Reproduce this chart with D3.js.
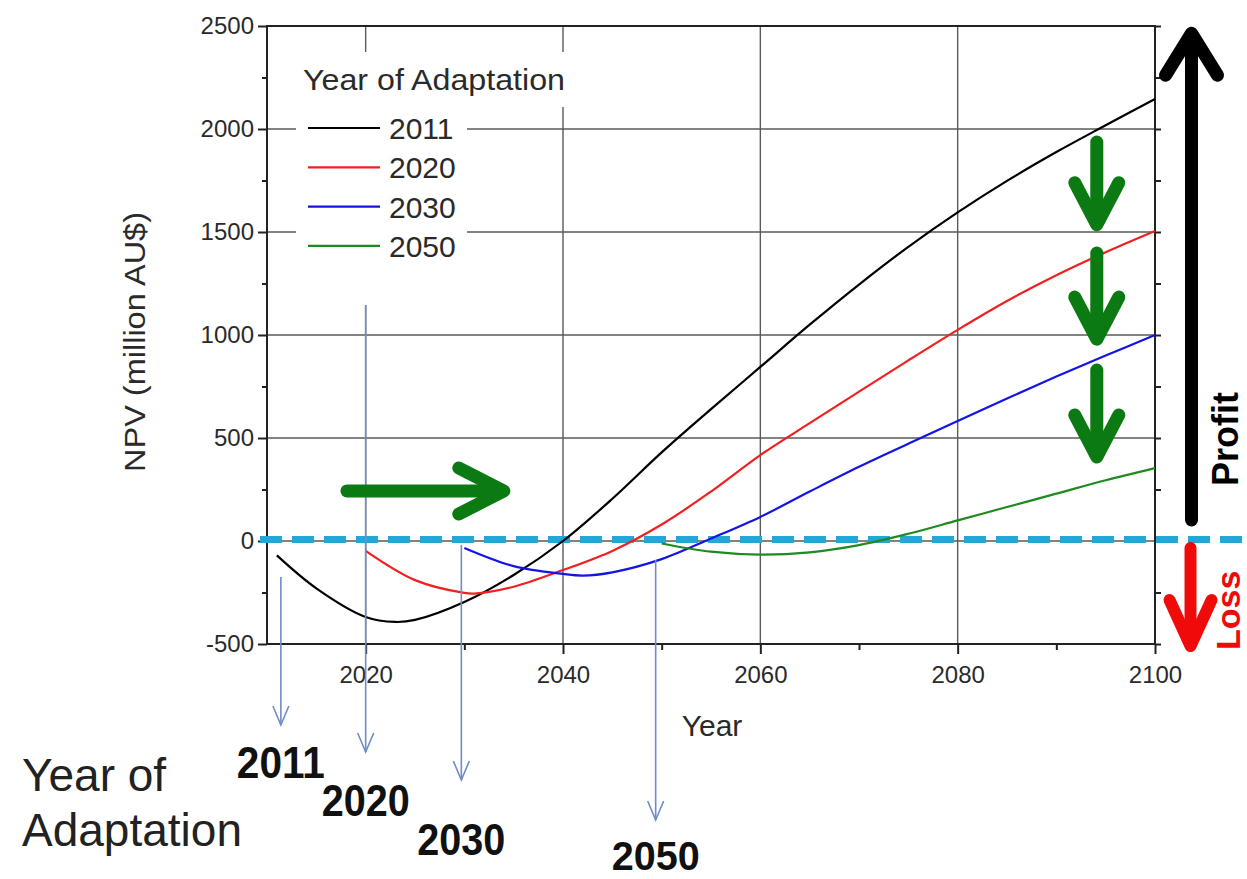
<!DOCTYPE html>
<html><head><meta charset="utf-8">
<script src="https://cdn.jsdelivr.net/npm/d3@7"></script>
<style>
body{margin:0;background:#fff}
svg{display:block}
text{font-family:"Liberation Sans",Arial,Helvetica,sans-serif}
</style>
</head><body>
<svg id="chart" width="1247" height="879"></svg>
<script>
// ---------- data ----------
const seriesNames = ["2011", "2020", "2030", "2050"];
const years2011 = [2011,2015,2020,2023,2025,2030,2035,2040,2045,2050,2055,2060,2065,2070,2075,2080,2085,2090,2095,2100];
const npv2011   = [-70,-230,-369,-393,-383,-296,-165,0,205,430,640,845,1050,1245,1428,1595,1748,1888,2018,2146];
const years2020 = [2020,2025,2030,2031,2035,2040,2045,2050,2055,2060,2065,2070,2075,2080,2085,2090,2095,2100];
const npv2020   = [-48,-190,-252,-255,-222,-141,-48,80,240,417,572,725,877,1025,1165,1290,1402,1505];
const years2030 = [2030,2035,2040,2042,2045,2050,2055,2060,2065,2070,2075,2080,2085,2090,2095,2100];
const npv2030   = [-34,-122,-160,-168,-152,-88,12,117,240,360,472,583,692,798,900,1000];
const years2050 = [2050,2055,2060,2065,2070,2075,2080,2085,2090,2095,2100];
const npv2050   = [-12,-52,-66,-55,-20,35,100,165,230,295,354];
const xTickYears = [2020, 2040, 2060, 2080, 2100];
const xMinorYears = [2030, 2050, 2070, 2090];
const yTickValues = [-500, 0, 500, 1000, 1500, 2000, 2500];
const yMinorValues = [-250, 250, 750, 1250, 1750, 2250];
const adaptationYears = [2011, 2020, 2030, 2050];
const adaptationArrowStart = [-175, 1146, -19, -92]; // NPV value where each arrow begins

// ---------- layout ----------
const W = 1247, H = 879;
const M = {left: 267, right: 1155, top: 26, bottom: 644};
const colors = {"2011": "#000000", "2020": "#f02020", "2030": "#1414e6", "2050": "#1f8a1f"};
const svg = d3.select("#chart");
svg.append("rect").attr("width", W).attr("height", H).attr("fill", "#fff");

const x = d3.scaleLinear().domain([2010, 2100]).range([M.left, M.right]);
const y = d3.scaleLinear().domain([-500, 2500]).range([M.bottom, M.top]);

// gridlines
const grid = svg.append("g").attr("stroke", "#5a5a5a").attr("stroke-width", 1.4);
grid.selectAll("line.v").data(xTickYears.filter(d => d < 2100)).join("line")
  .attr("x1", d => x(d)).attr("x2", d => x(d)).attr("y1", M.top).attr("y2", M.bottom);
grid.selectAll("line.h").data(yTickValues.filter(d => d > -500 && d < 2500)).join("line")
  .attr("x1", M.left).attr("x2", M.right).attr("y1", d => y(d)).attr("y2", d => y(d));

// legend white background (covers gridlines)
svg.append("rect").attr("x", 296).attr("y", 52).attr("width", 276).attr("height", 55).attr("fill", "#fff");
svg.append("rect").attr("x", 296).attr("y", 106).attr("width", 171).attr("height", 199).attr("fill", "#fff");

// axes
const axisG = svg.append("g").attr("stroke", "#222").attr("stroke-width", 2);
axisG.append("rect").attr("x", M.left).attr("y", M.top).attr("width", M.right - M.left)
  .attr("height", M.bottom - M.top).attr("fill", "none");

const fmt = d => String(d);
const yAxis = svg.append("g").attr("transform", `translate(${M.left},0)`)
  .call(d3.axisLeft(y).tickValues(yTickValues).tickSize(9).tickPadding(4).tickFormat(fmt));
const yMinor = svg.append("g").attr("transform", `translate(${M.left},0)`)
  .call(d3.axisLeft(y).tickValues(yMinorValues).tickSize(5).tickFormat(""));
const yRight = svg.append("g").attr("transform", `translate(${M.right},0)`)
  .call(d3.axisLeft(y).tickValues(yMinorValues.concat(yTickValues)).tickSize(6).tickFormat(""));
yRight.selectAll(".tick line").attr("transform", "translate(6,0)");
const xAxis = svg.append("g").attr("transform", `translate(0,${M.bottom})`)
  .call(d3.axisBottom(x).tickValues(xTickYears).tickSize(10).tickPadding(12).tickFormat(fmt));
const xMinor = svg.append("g").attr("transform", `translate(0,${M.bottom})`)
  .call(d3.axisBottom(x).tickValues(xMinorYears).tickSize(6).tickFormat(""));
[yAxis, yMinor, yRight, xAxis, xMinor].forEach(g => {
  g.select(".domain").remove();
  g.selectAll(".tick line").attr("stroke", "#222").attr("stroke-width", 2);
  g.selectAll("text").attr("font-size", 24).attr("fill", "#2a2a2a")
    .attr("font-family", '"Liberation Sans",Arial,sans-serif');
});

// axis titles
svg.append("text").attr("x", x(2055) + 1).attr("y", 736).attr("text-anchor", "middle")
  .attr("font-size", 30).attr("fill", "#2a2a2a").text("Year");
svg.append("text").attr("transform", `translate(145,${y(1000)+7}) rotate(-90)`).attr("text-anchor", "middle")
  .attr("font-size", 30).attr("fill", "#2a2a2a").attr("textLength", 260).attr("lengthAdjust", "spacingAndGlyphs")
  .text("NPV (million AU$)");

// zero line (cyan dashed)
svg.append("line").attr("x1", M.left - 7).attr("x2", W).attr("y1", y(0) - 1.5).attr("y2", y(0) - 1.5)
  .attr("stroke", "#22a8d8").attr("stroke-width", 7).attr("stroke-dasharray", "22,10");

// series
const series = [
  {name: "2011", years: years2011, vals: npv2011},
  {name: "2020", years: years2020, vals: npv2020},
  {name: "2030", years: years2030, vals: npv2030},
  {name: "2050", years: years2050, vals: npv2050}
];
const line = d3.line().x(d => x(d[0])).y(d => y(d[1])).curve(d3.curveCatmullRom.alpha(0.5));
svg.append("g").selectAll("path").data(series).join("path")
  .attr("d", s => line(s.years.map((yr, i) => [yr, s.vals[i]])))
  .attr("fill", "none").attr("stroke", s => colors[s.name]).attr("stroke-width", 2.2);

// legend
svg.append("text").attr("x", 303).attr("y", 90).attr("font-size", 30).attr("fill", "#2a2a2a")
  .attr("textLength", 262).attr("lengthAdjust", "spacingAndGlyphs").text("Year of Adaptation");
const leg = svg.append("g").selectAll("g").data(seriesNames).join("g")
  .attr("transform", (d, i) => `translate(0,${128 + i * 39.3})`);
leg.append("line").attr("x1", 308).attr("x2", 380).attr("stroke", d => colors[d]).attr("stroke-width", 2.2);
leg.append("text").attr("x", 389).attr("y", 11).attr("font-size", 30).attr("fill", "#2a2a2a").text(d => d);

// adaptation-year blue arrows and bold labels
const arrowEnds = [81, 108, 136, 176];
const labelBase = [134, 172, 211, 226];
const labelSize = [44, 44, 44, 40];
const blue = "#6f8cc6";
const ag = svg.append("g").attr("stroke", blue).attr("stroke-width", 1.6).attr("fill", "none");
adaptationYears.forEach((yr, i) => {
  const ax = x(yr) + (i === 0 ? 4 : i === 1 ? 0 : i === 2 ? -3 : -6);
  const y0 = y(adaptationArrowStart[i]);
  const y1 = M.bottom + arrowEnds[i];
  ag.append("line").attr("x1", ax).attr("x2", ax).attr("y1", y0).attr("y2", y1);
  ag.append("path").attr("d", `M${ax - 8},${y1 - 19} L${ax},${y1} L${ax + 8},${y1 - 19}`);
  svg.append("text").attr("x", ax).attr("y", M.bottom + labelBase[i]).attr("text-anchor", "middle")
    .attr("font-size", labelSize[i]).attr("font-weight", "bold").attr("fill", "#111")
    .attr("textLength", 88).attr("lengthAdjust", "spacingAndGlyphs").text(yr);
});
svg.append("text").attr("x", 22).attr("y", 791).attr("font-size", 46).attr("fill", "#222").text("Year of");
svg.append("text").attr("x", 22).attr("y", 846).attr("font-size", 46).attr("fill", "#222").text("Adaptation");

// annotation arrows (data coordinates)
function arrow(g, x0, v0, x1, v1, color, w, headLen, headHalf) {
  const p0 = [x(x0), y(v0)], p1 = [x(x1), y(v1)];
  const dx = p1[0] - p0[0], dy = p1[1] - p0[1], L = Math.hypot(dx, dy);
  const ux = dx / L, uy = dy / L;
  const bx = p1[0] - ux * headLen, by = p1[1] - uy * headLen;
  g.append("line").attr("x1", p0[0]).attr("y1", p0[1]).attr("x2", p1[0] - ux * 3).attr("y2", p1[1] - uy * 3)
    .attr("stroke", color).attr("stroke-width", w).attr("stroke-linecap", "round");
  g.append("path").attr("d", `M${bx - uy * headHalf},${by + ux * headHalf} L${p1[0]},${p1[1]} L${bx + uy * headHalf},${by - ux * headHalf}`)
    .attr("fill", "none").attr("stroke", color).attr("stroke-width", w)
    .attr("stroke-linecap", "round").attr("stroke-linejoin", "round");
}
const annoG = svg.append("g");
const darkGreen = "#0b7a12";
arrow(annoG, 2018.1, 243, 2034.0, 243, darkGreen, 13, 45, 23);
arrow(annoG, 2094.1, 1937, 2094.1, 1535, darkGreen, 13, 42, 22);
arrow(annoG, 2094.1, 1398, 2094.1, 980, darkGreen, 13, 42, 22);
arrow(annoG, 2094.1, 830, 2094.1, 408, darkGreen, 13, 42, 22);
arrow(annoG, 2103.7, 102, 2103.7, 2465, "#000", 13, 42, 26);
arrow(annoG, 2103.6, -34, 2103.6, -510, "#f00a0a", 12, 46, 21);

// Profit / Loss labels
svg.append("text").attr("transform", `translate(1238,${y(500) + 48}) rotate(-90)`)
  .attr("font-size", 36).attr("font-weight", "bold").attr("fill", "#000").text("Profit");
svg.append("text").attr("transform", `translate(1240,${y(-500) + 6}) rotate(-90)`)
  .attr("font-size", 34).attr("font-weight", "bold").attr("fill", "#f00a0a").text("Loss");
</script>
</body></html>
